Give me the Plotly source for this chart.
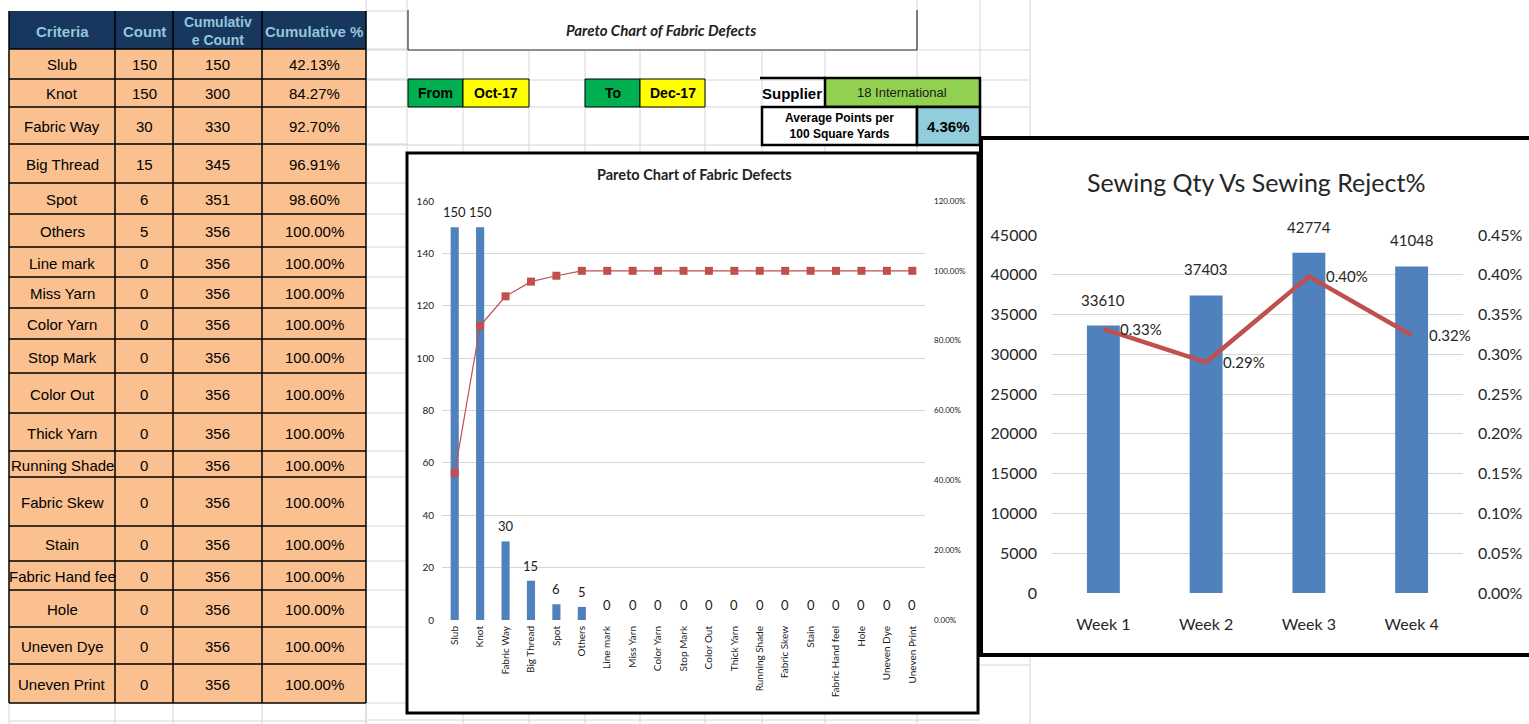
import plotly.graph_objects as go

# ---------------- data ----------------
criteria = ["Slub", "Knot", "Fabric Way", "Big Thread", "Spot", "Others", "Line mark",
            "Miss Yarn", "Color Yarn", "Stop Mark", "Color Out", "Thick Yarn",
            "Running Shade", "Fabric Skew", "Stain", "Fabric Hand feel", "Hole",
            "Uneven Dye", "Uneven Print"]
table_criteria = ["Slub", "Knot", "Fabric Way", "Big Thread", "Spot", "Others", "Line mark",
                  "Miss Yarn", "Color Yarn", "Stop Mark", "Color Out", "Thick Yarn",
                  "Running Shade", "Fabric Skew", "Stain", "Fabric Hand fee", "Hole",
                  "Uneven Dye", "Uneven Print"]
counts = [150, 150, 30, 15, 6, 5, 0, 0, 0, 0, 0, 0, 0, 0, 0, 0, 0, 0, 0]
cum_counts = [150, 300, 330, 345, 351, 356, 356, 356, 356, 356, 356, 356, 356, 356,
              356, 356, 356, 356, 356]
cum_pct = [42.13, 84.27, 92.70, 96.91, 98.60, 100.00, 100.00, 100.00, 100.00, 100.00,
           100.00, 100.00, 100.00, 100.00, 100.00, 100.00, 100.00, 100.00, 100.00]
table_headers = ["Criteria", "Count", "Cumulativ<br>e Count", "Cumulative %"]

period_from = "Oct-17"
period_to = "Dec-17"
supplier = "18 International"
avg_points = "4.36%"
title_main = "Pareto Chart of Fabric Defects"

weeks = ["Week 1", "Week 2", "Week 3", "Week 4"]
sewing_qty = [33610, 37403, 42774, 41048]
reject_pct = [0.00332, 0.00290, 0.00398, 0.00324]

# ---------------- layout helpers (pixels -> paper) ----------------
W, H = 1529, 724
def X(p): return p / W
def Y(p): return 1 - p / H

ROW_EDGES = [49, 79, 107, 144, 183, 214, 247, 277, 308, 339, 373, 413, 451, 477,
             526, 561, 590, 627, 664, 703]
HEAD_TOP = 11
COL_EDGES = [9, 115, 173, 262, 366]

TABLE_FONT = "Liberation Sans Narrow, Liberation Sans, Arial Narrow, sans-serif"
CHART_FONT = "Lato, Carlito, sans-serif"
GRID = "#D6D6D6"
BLUE = "#4F81BD"
RED = "#C0504D"

shapes = []
annotations = []

def line(x0, y0, x1, y1, color=GRID, width=1, layer="below"):
    shapes.append(dict(type="line", xref="paper", yref="paper", x0=X(x0), y0=Y(y0),
                       x1=X(x1), y1=Y(y1), line=dict(color=color, width=width), layer=layer))

def rect(x0, y0, x1, y1, fill=None, lc="black", lw=1, layer="below"):
    d = dict(type="rect", xref="paper", yref="paper", x0=X(x0), y0=Y(y0), x1=X(x1), y1=Y(y1),
             line=dict(color=lc, width=lw), layer=layer)
    if fill:
        d["fillcolor"] = fill
    shapes.append(d)

def text(x, y, t, size=14, color="black", family=TABLE_FONT, xanchor="center"):
    annotations.append(dict(xref="paper", yref="paper", x=X(x), y=Y(y), text=t, showarrow=False,
                            xanchor=xanchor, yanchor="middle", align="center",
                            font=dict(size=size, color=color, family=family)))

# ---------------- spreadsheet grid ----------------
for yy in [HEAD_TOP] + ROW_EDGES:
    line(366, yy, 407, yy)
for yy in [50, 80, 107, 145]:
    line(366, yy, 1030, yy)
for xx in [463, 529, 585, 640, 705, 762, 825]:
    line(xx, 50, xx, 153)
    line(xx, 713, xx, 724)
for xx in [917, 980, 1030]:
    line(xx, 0, xx, 153)
line(917, 713, 917, 724)
line(366, 0, 366, 724)
line(407, 0, 407, 153)
line(366, 720, 980, 720)
line(9, 721, 366, 721)
for xx in COL_EDGES:
    line(xx, 703, xx, 724)
line(980, 665, 1030, 665)
line(1030, 655, 1030, 724)

# ---------------- left table ----------------
rect(COL_EDGES[0], HEAD_TOP, COL_EDGES[-1], ROW_EDGES[0], fill="#17375E", lc="#17375E", lw=0)
rect(COL_EDGES[0], ROW_EDGES[0], COL_EDGES[-1], ROW_EDGES[-1], fill="#FAC090", lc="black", lw=0)
for yy in ROW_EDGES:
    line(COL_EDGES[0], yy, COL_EDGES[-1], yy, color="black", width=1.5, layer="above")
for xx in COL_EDGES:
    line(xx, HEAD_TOP, xx, ROW_EDGES[-1], color="black", width=1.5, layer="above")

col_centers = [(COL_EDGES[i] + COL_EDGES[i + 1]) / 2 for i in range(4)]
for c, h in zip(col_centers, table_headers):
    text(c, (HEAD_TOP + ROW_EDGES[0]) / 2 + 1, "<b>" + h + "</b>", size=15 if "<br>" not in h else 14,
         color="#93C6DA")
for i in range(len(table_criteria)):
    cy = (ROW_EDGES[i] + ROW_EDGES[i + 1]) / 2 + 1
    vals = [table_criteria[i], str(counts[i]), str(cum_counts[i]), f"{cum_pct[i]:.2f}%"]
    for c, v in zip(col_centers, vals):
        text(c, cy, v, size=15)

# ---------------- header cells ----------------
line(408, 10, 408, 50, color="#333333", width=1.2, layer="above")
line(917, 10, 917, 50, color="#333333", width=1.2, layer="above")
line(408, 50, 917, 50, color="#333333", width=1.2, layer="above")
text(661, 30, "<b><i>" + title_main + "</i></b>", size=15, family=CHART_FONT, color="#222222")

rect(408, 79, 463, 107, fill="#00B050", lw=1)
rect(463, 79, 529, 107, fill="#FFFF00", lw=1)
rect(585, 79, 640, 107, fill="#00B050", lw=1)
rect(640, 79, 705, 107, fill="#FFFF00", lw=1)
text(435.5, 93, "<b>From</b>", size=14)
text(496, 93, "<b>" + period_from + "</b>", size=14)
text(612.5, 93, "<b>To</b>", size=14)
text(672.5, 93, "<b>" + period_to + "</b>", size=14)

line(760, 78, 825, 78, color="black", width=2.5, layer="above")
rect(825, 78, 980, 107, fill="#92D050", lw=2.5)
text(792, 94, "<b>Supplier</b>", size=15, family="Liberation Sans, sans-serif")
text(902, 93, supplier, size=13, family="Liberation Sans Narrow, Liberation Sans, sans-serif",
     color="#1a1a1a")
rect(762, 107, 917, 145, fill="white", lw=2.5)
rect(917, 107, 980, 145, fill="#92CDDC", lw=2.5)
text(839, 126, "<b>Average Points per<br>100 Square Yards</b>", size=12,
     family="Liberation Sans, sans-serif")
text(948, 126, "<b>" + avg_points + "</b>", size=15, family="Liberation Sans, sans-serif")

# ---------------- chart frames ----------------
rect(407, 153, 978, 713, fill="white", lc="black", lw=3)
rect(981, 138, 1533, 655, fill="white", lc="black", lw=4)

text(694, 175, "<b>" + title_main + "</b>", size=14.5, family=CHART_FONT, color="#222222")
text(1256, 182, "Sewing Qty Vs Sewing Reject%", size=25, family=CHART_FONT, color="#262626")

# ---------------- traces ----------------
fig = go.Figure()
fig.add_trace(go.Bar(x=criteria, y=counts, marker=dict(color=BLUE, line=dict(width=0)),
                     xaxis="x", yaxis="y", hoverinfo="x+y"))
fig.add_trace(go.Scatter(x=criteria, y=[v / 100 for v in cum_pct], mode="lines+markers",
                         line=dict(color=RED, width=1.2),
                         marker=dict(symbol="square", size=8, color=RED),
                         xaxis="x", yaxis="y2"))
fig.add_trace(go.Bar(x=weeks, y=sewing_qty, marker=dict(color=BLUE, line=dict(width=0)),
                     xaxis="x3", yaxis="y3"))
fig.add_trace(go.Scatter(x=weeks, y=reject_pct, mode="lines", line=dict(color=RED, width=4.5),
                         xaxis="x3", yaxis="y4"))

for c, v in zip(criteria, counts):
    annotations.append(dict(x=c, y=v, xref="x", yref="y", text=str(v), showarrow=False,
                            yanchor="middle", yshift=15,
                            font=dict(size=13, color="#1a1a1a", family=CHART_FONT)))
for w, v in zip(weeks, sewing_qty):
    annotations.append(dict(x=w, y=v, xref="x3", yref="y3", text=str(v), showarrow=False,
                            yanchor="middle", yshift=26,
                            font=dict(size=15, color="#262626", family=CHART_FONT)))
for w, v in zip(weeks, reject_pct):
    annotations.append(dict(x=w, y=v, xref="x3", yref="y4", text=f"{v*100:.2f}%", showarrow=False,
                            xanchor="left", yanchor="middle", xshift=15,
                            font=dict(size=15, color="#262626", family=CHART_FONT)))

fig.update_layout(
    template="none",
    width=W, height=H, margin=dict(l=0, r=0, t=0, b=0, pad=0, autoexpand=False),
    paper_bgcolor="white", plot_bgcolor="rgba(0,0,0,0)",
    showlegend=False, bargap=0.68,
    shapes=shapes, annotations=annotations,
    xaxis=dict(domain=[X(442), X(925)], anchor="y", type="category", range=[-0.5, 18.5],
               tickangle=-90, tickfont=dict(size=10, color="#1a1a1a", family=CHART_FONT),
               showgrid=False, showline=False, ticks="", fixedrange=True, ticklabelstandoff=3,
               automargin=False, zeroline=False),
    yaxis=dict(domain=[Y(620), Y(201)], range=[0, 160], dtick=20, gridcolor=GRID, gridwidth=1,
               zeroline=False, tickfont=dict(size=10, color="#1a1a1a", family=CHART_FONT),
               ticklabelstandoff=7, showline=False, ticks="", automargin=False),
    yaxis2=dict(overlaying="y", side="right", anchor="x", range=[0, 1.2], dtick=0.2,
                tickformat=".2%", showgrid=False, zeroline=False, ticks="",
                tickfont=dict(size=8, color="#1a1a1a", family=CHART_FONT), ticklabelstandoff=8,
                automargin=False),
    xaxis3=dict(domain=[X(1052), X(1463)], anchor="y3", type="category", range=[-0.5, 3.5],
                tickfont=dict(size=16, color="#262626", family=CHART_FONT), showgrid=False,
                showline=False, ticks="", ticklabelstandoff=20, automargin=False, zeroline=False),
    yaxis3=dict(domain=[Y(593), Y(235)], anchor="x3", range=[0, 45000], dtick=5000,
                tickformat="d", gridcolor=GRID, gridwidth=1, zeroline=False, showline=False,
                ticks="", tickfont=dict(size=16, color="#262626", family=CHART_FONT),
                ticklabelstandoff=14, automargin=False),
    yaxis4=dict(overlaying="y3", side="right", anchor="x3", range=[0, 0.0045], dtick=0.0005,
                tickformat=".2%", showgrid=False, zeroline=False, ticks="",
                tickfont=dict(size=16, color="#262626", family=CHART_FONT), ticklabelstandoff=14,
                automargin=False),
)

fig.write_html("out.html", config={"displayModeBar": False},
               post_script="document.body.style.margin='0px';")
